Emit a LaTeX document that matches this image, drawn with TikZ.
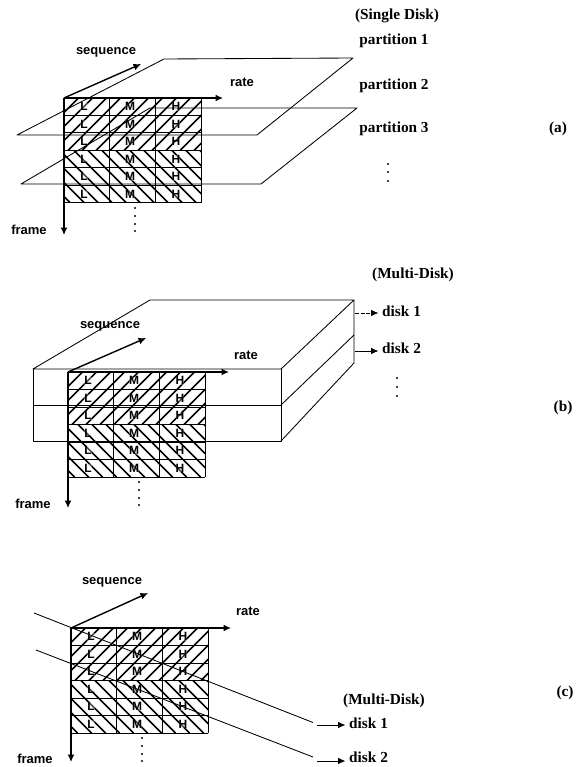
\documentclass[tikz,border=0pt]{standalone}
\usepackage{fontspec}
\setmainfont{Liberation Serif}
\setsansfont{Liberation Sans}
\usetikzlibrary{arrows.meta}
\tikzset{
  axis/.style={line width=1.4pt,-{Latex[length=7.5pt,width=7pt]}},
  plane/.style={line width=0.85pt,line join=round},
  gridline/.style={line width=1pt},
  hatchline/.style={line width=1.6pt},
  sanslab/.style={font=\sffamily\bfseries\fontsize{13}{15}\selectfont,inner sep=0pt},
  seriflab/.style={font=\bfseries\fontsize{15.3}{17}\selectfont,inner sep=0pt},
  cellab/.style={font=\sffamily\bfseries\fontsize{12}{14}\selectfont,inner sep=0pt},
  diskarrow/.style={line width=0.85pt,shorten >=3.5pt,-{Latex[length=7.5pt,width=6.5pt]}},
  vdot/.style={circle,fill=black,inner sep=0pt,minimum size=2.4pt}
}
% #1 prefix, #2 x of origin, #3 y of origin
\newcommand{\hatchgrid}[3]{%
  \begin{scope}[shift={(#2,#3)}]
    \begin{scope}
      \clip (0,0) rectangle (137,52.5);
      \foreach \c in {-52,-38,...,137}
        \draw[hatchline] (\c,52.5) -- (\c+52.5,0);
    \end{scope}
    \begin{scope}
      \clip (0,52.5) rectangle (137,105);
      \foreach \c in {-46,-32,...,137}
        \draw[hatchline] (\c,52.5) -- (\c+52.5,105);
    \end{scope}
    \foreach \r in {0,...,6}
      \draw[gridline] (0,{\r*17.5}) -- (137,{\r*17.5});
    \foreach \k in {1,2,3}
      \draw[gridline] ({\k*45.67},0) -- ({\k*45.67},105);
    \foreach \r in {1,...,6}{
      \node[cellab,fill=white,fill opacity=.3,text opacity=1] (#1L\r) at (20,{(\r-.5)*17.5}) {L};
      \node[cellab,fill=white,fill opacity=.3,text opacity=1] (#1M\r) at (66,{(\r-.5)*17.5}) {M};
      \node[cellab,fill=white,fill opacity=.3,text opacity=1] (#1H\r) at (112,{(\r-.5)*17.5}) {H};
    }
    \node[vdot] (#1d1) at (71,110) {};
    \node[vdot] (#1d2) at (71,118) {};
    \node[vdot] (#1d3) at (71,126) {};
    \node[vdot] (#1d4) at (71,133) {};
  \end{scope}}
\begin{document}
\begin{tikzpicture}[x=1pt,y=-1pt]
\useasboundingbox (0,0) rectangle (580,767);
\fill[white] (0,0) rectangle (580,767);

% ---------- panel (a)
\hatchgrid{a}{64}{98}
\coordinate (aO) at (64,98);
\coordinate (aS) at (141,64);
\coordinate (aR) at (223,98);
\coordinate (aF) at (64,235);
\coordinate (p1a) at (17,135); \coordinate (p1b) at (164,59);
\coordinate (p1c) at (353,58); \coordinate (p1d) at (257,135);
\coordinate (p2a) at (21,184); \coordinate (p2b) at (150,108);
\coordinate (p2c) at (357,108); \coordinate (p2d) at (261,184);
\draw[plane] (p1a) -- (p1b) -- (p1c) -- (p1d) -- cycle;
\draw[plane] (p2a) -- (p2b) -- (p2c) -- (p2d) -- cycle;
\draw[axis] (aO) -- (aS);
\draw[axis] (aO) -- (aR);
\draw[axis] (aO) -- (aF);
\node[sanslab] (aseq) at (106,52) {sequence};
\node[sanslab] (arate) at (242,82) {rate};
\node[sanslab] (aframe) at (29,230) {frame};
\node[seriflab] (single) at (397,16) {(Single Disk)};
\node[seriflab] (part1) at (394,41) {partition 1};
\node[seriflab] (part2) at (394,86) {partition 2};
\node[seriflab] (part3) at (394,129) {partition 3};
\node[vdot] (adots1) at (388,164) {};
\node[vdot] (adots2) at (388,172) {};
\node[vdot] (adots3) at (388,181) {};
\node[seriflab] (la) at (558,129) {(a)};

% ---------- panel (b)
\coordinate (bfl1) at (33,369); \coordinate (bfr1) at (281,369);
\coordinate (bfl2) at (33,405); \coordinate (bfr2) at (281,405);
\coordinate (bfl3) at (33,441); \coordinate (bfr3) at (281,441);
\coordinate (btl) at (150,300); \coordinate (btr) at (354,300);
\coordinate (br2) at (354,335); \coordinate (br3) at (354,363);
\hatchgrid{b}{68}{372}
\draw[plane] (bfl1) -- (btl) -- (btr) -- (bfr1) -- cycle;
\draw[plane] (bfl1) -- (bfl3) -- (bfr3) -- (bfr1);
\draw[plane] (bfl2) -- (bfr2);
\draw[plane] (btr) -- (br3) -- (bfr3);
\draw[plane] (br2) -- (bfr2);
\coordinate (bO) at (68,372);
\coordinate (bS) at (146,338);
\coordinate (bR) at (229,372);
\coordinate (bF) at (68,508);
\draw[axis] (bO) -- (bS);
\draw[axis] (bO) -- (bR);
\draw[axis] (bO) -- (bF);
\node[sanslab] (bseq) at (110,326) {sequence};
\node[sanslab] (brate) at (246,355) {rate};
\node[sanslab] (bframe) at (33,504) {frame};
\node[seriflab] (multib) at (413,275) {(Multi-Disk)};
\node[seriflab,anchor=west] (bd1) at (382,311) {disk 1};
\node[seriflab,anchor=west] (bd2) at (382,348) {disk 2};
\coordinate (bs1) at (355,313);
\coordinate (bs2) at (355,351);
\draw[diskarrow,dash pattern=on 4pt off 1.5pt] (bs1) -- (bd1.west |- bs1);
\draw[diskarrow] (bs2) -- (bd2.west |- bs2);
\node[vdot] (bdots1) at (397,378) {};
\node[vdot] (bdots2) at (397,387) {};
\node[vdot] (bdots3) at (397,396) {};
\node[seriflab] (lb) at (563,408) {(b)};

% ---------- panel (c)
\hatchgrid{c}{71}{628}
\coordinate (cO) at (71,628);
\coordinate (cS) at (148,593);
\coordinate (cR) at (231,628);
\coordinate (cF) at (71,762);
\coordinate (cl1) at (34,613); \coordinate (cm1) at (313,722.5);
\coordinate (cl2) at (36,650); \coordinate (cm2) at (313,757);
\coordinate (cs1) at (317,725);
\coordinate (cs2) at (317,761);
\draw[plane] (cl1) -- (cm1);
\draw[plane] (cl2) -- (cm2);
\draw[axis] (cO) -- (cS);
\draw[axis] (cO) -- (cR);
\draw[axis] (cO) -- (cF);
\node[sanslab] (cseq) at (112,582) {sequence};
\node[sanslab] (crate) at (248,611) {rate};
\node[sanslab] (cframe) at (35,759) {frame};
\node[seriflab] (multic) at (384,701) {(Multi-Disk)};
\node[seriflab,anchor=west] (cd1) at (349,723) {disk 1};
\node[seriflab,anchor=west] (cd2) at (349,757) {disk 2};
\draw[diskarrow] (cs1) -- (cd1.west |- cs1);
\draw[diskarrow] (cs2) -- (cd2.west |- cs2);
\node[seriflab] (lc) at (565,693) {(c)};
\end{tikzpicture}
\end{document}
